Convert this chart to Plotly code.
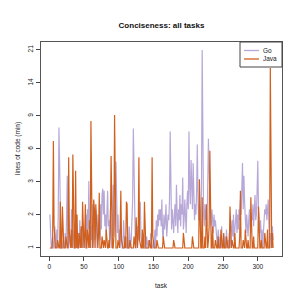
import numpy as np
import plotly.graph_objects as go

# ---- data (lines of code, min) per task ----
go_loc = [
    2.0, 1.2, 1.0, 1.0, 1.3, 1.0, 1.0, 1.6, 1.0, 1.0,
    1.5, 1.0, 2.0, 7.6, 4.5, 1.3, 1.0, 1.0, 1.0, 1.2,
    1.0, 1.0, 1.4, 1.0, 2.0, 3.8, 1.2, 1.0, 1.4, 1.0,
    1.0, 2.2, 1.0, 1.0, 1.3, 1.5, 1.0, 1.0, 1.6, 1.0,
    1.0, 1.4, 1.0, 1.8, 1.0, 1.5, 1.0, 1.0, 1.6, 1.2,
    1.0, 1.4, 2.0, 1.0, 2.2, 1.5, 3.5, 1.3, 1.0, 1.6,
    1.2, 2.4, 1.3, 1.0, 1.8, 1.2, 2.2, 1.5, 1.0, 2.0,
    1.3, 1.7, 1.2, 2.4, 1.5, 2.8, 3.1, 2.0, 3.0, 1.6,
    2.0, 1.3, 2.4, 3.0, 1.6, 1.8, 1.2, 2.2, 1.4, 1.0,
    1.8, 3.3, 1.3, 1.8, 2.6, 4.7, 3.0, 1.4, 2.0, 1.2,
    1.5, 1.0, 1.6, 1.2, 1.0, 1.0, 1.8, 1.3, 1.0, 1.0,
    1.0, 1.3, 1.0, 1.0, 1.6, 1.0, 1.0, 1.2, 2.0, 2.6,
    7.5, 3.4, 1.5, 1.0, 1.0, 1.3, 1.6, 1.2, 1.4, 2.0,
    2.5, 1.3, 1.0, 1.0, 1.2, 1.4, 1.0, 1.0, 1.0, 1.3,
    1.0, 1.0, 1.2, 1.0, 1.0, 1.4, 1.0, 1.0, 1.0, 1.2,
    1.0, 1.5, 1.0, 1.8, 1.3, 2.0, 1.6, 2.2, 1.8, 2.2,
    1.6, 2.6, 1.4, 1.2, 2.0, 1.5, 1.8, 2.4, 1.3, 1.6,
    2.0, 1.8, 2.6, 7.2, 2.8, 1.5, 2.2, 1.8, 1.4, 2.0,
    2.4, 1.6, 3.3, 2.0, 1.4, 2.2, 1.8, 2.8, 1.6, 2.4,
    2.0, 3.7, 1.5, 1.8, 2.6, 2.0, 1.4, 2.4, 3.0, 2.2,
    7.2, 3.2, 2.4, 4.8, 3.0, 2.2, 4.6, 2.8, 1.8, 2.4,
    2.0, 3.0, 6.0, 2.6, 1.8, 2.4, 1.6, 2.2, 3.0, 21.0,
    2.8, 2.0, 1.6, 2.4, 1.8, 2.2, 1.6, 3.0, 6.5, 4.0,
    2.4, 2.0, 1.6, 2.2, 1.8, 1.4, 2.0, 1.6, 1.8, 1.4,
    1.4, 1.0, 1.5, 1.0, 1.0, 1.3, 1.0, 1.6, 1.0, 1.2,
    1.0, 1.0, 1.3, 1.0, 1.5, 1.0, 1.2, 1.0, 1.4, 1.0,
    1.2, 1.6, 1.8, 1.3, 2.0, 1.2, 1.6, 1.8, 2.2, 1.4,
    2.0, 1.5, 2.2, 1.8, 2.6, 2.0, 3.0, 4.6, 2.2, 3.8,
    2.5, 1.8, 1.4, 2.0, 1.6, 1.3, 1.8, 2.2, 1.6, 1.4,
    2.0, 1.8, 2.4, 1.6, 2.2, 2.8, 1.8, 2.0, 3.0, 4.75,
    2.2, 1.6, 1.4, 1.8, 1.2, 1.5, 1.0, 1.4, 1.8, 2.2,
    2.0, 2.4, 1.8, 2.5, 2.6, 1.6, 1.2, 1.4, 1.0, 1.3,
    1.6, 1.2,
]
java_loc = [
    1, 1, 1, 1, 1.3, 6.3, 1.6, 1, 1, 1,
    1, 1.2, 1, 1, 1, 2.5, 1, 1, 2.3, 1,
    1, 1, 1, 1.3, 1, 1, 1, 5.0, 1.4, 1,
    1, 1.5, 1, 5.2, 1.2, 1, 1, 4.1, 1, 2.0,
    1, 1, 1.4, 1, 1, 1.6, 1, 2.5, 1.2, 1,
    1.3, 2.4, 1, 1, 1.5, 1, 1, 1.8, 1, 8.3,
    1.5, 1, 1.2, 2.6, 2.2, 1, 2.4, 1.6, 1, 1,
    1.4, 2.9, 1, 1, 1, 1.3, 1, 1, 1.2, 1,
    1, 1.5, 1, 1, 1, 1.2, 1, 1.6, 5.1, 1.4,
    1, 1, 1.3, 9.0, 1.5, 1, 1, 1, 1.2, 1,
    1, 1.4, 3.0, 1.2, 1, 1, 1, 1, 1.3, 1,
    2.5, 2.4, 1, 1, 1, 1.2, 1, 1, 1, 1,
    1, 1.3, 1, 1, 1.9, 1, 1, 1.4, 5.0, 1.2,
    1, 1, 1, 1.5, 1, 1, 2.5, 1.3, 1, 1,
    1, 1, 1, 1.2, 1, 1, 1, 5.0, 1.3, 1,
    1, 1, 1, 1, 1.2, 1, 1, 1, 1, 1,
    1, 1, 1, 1.3, 1, 1, 1, 1, 1, 1,
    1, 1, 1, 1, 1, 1, 1, 1, 1.2, 1,
    1, 1, 1, 1, 1, 1, 1, 1, 1, 1,
    1, 1, 1.4, 1, 1, 1, 1, 1, 1, 1,
    1, 1, 1, 1, 1, 1.3, 1, 1, 1, 1,
    1, 1, 1, 1, 1, 3.6, 1.4, 1, 1, 2.7,
    1, 1, 1, 1.3, 1, 2.4, 1, 1, 1.2, 1.6,
    5.5, 1.3, 1, 1, 1.6, 1, 1, 1, 1.2, 1,
    1, 1, 1.3, 1, 1, 1, 1.5, 1, 1, 1,
    1.4, 1, 1, 1, 1.3, 1, 1, 1, 1, 2.3,
    1, 1, 1.2, 1, 1, 1, 1.4, 1, 1, 1,
    1, 1, 1, 1.3, 3.0, 1, 1, 1, 1.2, 1,
    1, 1.5, 1, 1, 1, 1.2, 1, 1, 1, 2.7,
    1, 1, 1, 1.3, 1, 1, 1, 1, 1, 1,
    2.3, 1, 1, 1, 1.2, 1, 1, 1, 1, 1.4,
    1, 1, 1, 1.5, 1, 1, 1, 16.7, 1, 1,
    1.4, 1,
]
x_ticks = [0, 50, 100, 150, 200, 250, 300]
y_tick_labels = ["1", "2", "3", "6", "9", "14", "21"]

tasks = np.arange(1, len(go_loc) + 1)
GO_COL = "#b8a8d8"
JAVA_COL = "#d0601e"
FONT = "Liberation Sans, Arial, sans-serif"

fig = go.Figure()
fig.add_trace(go.Scatter(x=tasks, y=np.log1p(go_loc), mode="lines", name="Go",
                         line=dict(color=GO_COL, width=1.2), showlegend=False))
fig.add_trace(go.Scatter(x=tasks, y=np.log1p(java_loc), mode="lines", name="Java",
                         line=dict(color=JAVA_COL, width=1.2), showlegend=False))

y_tickvals = np.log(2) + 0.4 * np.arange(len(y_tick_labels))

fig.update_layout(
    width=291, height=291,
    margin=dict(l=33, r=17, t=34, b=43, autoexpand=False),
    paper_bgcolor="white", plot_bgcolor="white",
    font=dict(family=FONT, size=6.5, color="#222"),
    title=dict(text="<b>Conciseness: all tasks</b>", x=153.5 / 291, xanchor="center",
               xref="container", y=1 - 17 / 291, yanchor="middle", yref="container",
               font=dict(size=8, family=FONT, color="#111")),
    xaxis=dict(range=[-11.8, 334.8], tickvals=x_ticks, ticks="outside", ticklen=4,
               tickcolor="#444", showgrid=False, zeroline=False, showline=True,
               linecolor="#555", linewidth=1, mirror=True, automargin=False,
               tickfont=dict(size=6.5)),
    yaxis=dict(range=[0.596, 3.188], tickvals=y_tickvals, ticktext=y_tick_labels,
               ticks="outside", ticklen=4, tickcolor="#444", tickangle=-90,
               showgrid=False, zeroline=False, showline=True, linecolor="#555",
               linewidth=1, mirror=True, automargin=False, tickfont=dict(size=6.5)),
)

# axis titles
fig.add_annotation(text="task", xref="paper", yref="paper", x=0.5, y=(248 - 277) / 214,
                   showarrow=False, xanchor="center", yanchor="middle", font=dict(size=6.5))
fig.add_annotation(text="lines of code (min)", xref="paper", yref="paper",
                   x=(10 - 33) / 241, y=0.5, textangle=-90, showarrow=False,
                   xanchor="center", yanchor="middle", font=dict(size=6.5))

# legend box (top-right)
def px(xp):
    return (xp - 33) / 241

def py(yp):
    return (248 - yp) / 214

fig.add_shape(type="rect", xref="paper", yref="paper", x0=px(232), x1=1.0, y0=py(59), y1=1.0,
              line=dict(color="#444", width=1), fillcolor="white", layer="above")
for name, col, yy in [("Go", GO_COL, 42.5), ("Java", JAVA_COL, 51)]:
    fig.add_shape(type="line", xref="paper", yref="paper", x0=px(236), x1=px(251),
                  y0=py(yy), y1=py(yy), line=dict(color=col, width=1.3), layer="above")
    fig.add_annotation(text=name, xref="paper", yref="paper", x=px(253), y=py(yy),
                       showarrow=False, xanchor="left", yanchor="middle",
                       font=dict(size=6.5))

fig.write_html("out.html")
